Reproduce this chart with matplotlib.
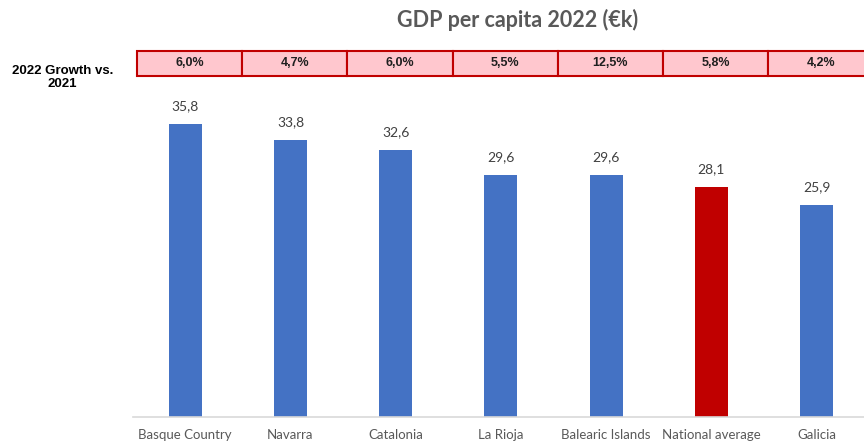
import numpy as np
import matplotlib.pyplot as plt
from matplotlib.patches import Rectangle

regions = ["Basque Country", "Navarra", "Catalonia", "La Rioja",
           "Balearic Islands", "National average", "Galicia"]
gdp_per_capita = [35.8, 33.8, 32.6, 29.6, 29.6, 28.1, 25.9]
growth = ["6,0%", "4,7%", "6,0%", "5,5%", "12,5%", "5,8%", "4,2%"]
highlight = "National average"

BLUE = "#4472C4"
RED = "#C00000"
PINK = "#FFC7CE"
GREY_TXT = "#595959"

fig = plt.figure(figsize=(8.64, 4.46), dpi=100)
ax = fig.add_axes([132.7 / 864, 29.5 / 446, 736.4 / 864, 375.8 / 446])

x = np.arange(len(regions))
colors = [RED if r == highlight else BLUE for r in regions]
bars = ax.bar(x, gdp_per_capita, width=0.315, color=colors, zorder=2)

for b, v in zip(bars, gdp_per_capita):
    ax.annotate(f"{v:.1f}".replace(".", ","),
                (b.get_x() + b.get_width() / 2, v),
                xytext=(0, 8.5), textcoords="offset points",
                ha="center", va="bottom", fontsize=10,
                family="Lato", color="#404040")

ax.set_xlim(-0.5, len(regions) - 0.5)
ax.set_ylim(0, 46)
ax.set_yticks([])
ax.set_xticks(x)
ax.set_xticklabels(regions, family="Lato", fontsize=9.5, color=GREY_TXT)
ax.tick_params(axis="x", length=0, pad=9)
for s in ["top", "right", "left"]:
    ax.spines[s].set_visible(False)
ax.spines["bottom"].set_color("#D9D9D9")
ax.spines["bottom"].set_linewidth(1.2)

# growth row above the bars
row_lo, row_hi = 41.7, 44.75
for i, g in enumerate(growth):
    x0 = i - 0.5 + 0.04
    ax.add_patch(Rectangle((x0, row_lo), 1.0, row_hi - row_lo,
                           facecolor=PINK, edgecolor=RED, linewidth=1.5,
                           clip_on=False, zorder=3))
    ax.text(x0 + 0.5, (row_lo + row_hi) / 2, g, ha="center", va="center",
            fontsize=9, fontweight="bold", family="Liberation Sans",
            color="#1F1F1F", zorder=4)

fig.text(62.5 / 864, 1 - 77.5 / 446, "2022 Growth vs.\n2021", ha="center",
         va="center", fontsize=9.5, fontweight="bold", family="Liberation Sans",
         color="black", linespacing=1.05)

fig.text(518 / 864, 1 - 20 / 446, "GDP per capita 2022 (€k)", ha="center",
         va="center", fontsize=15.5, fontweight="bold", family="Lato",
         color=GREY_TXT)

fig.savefig("out.png", dpi=100)
